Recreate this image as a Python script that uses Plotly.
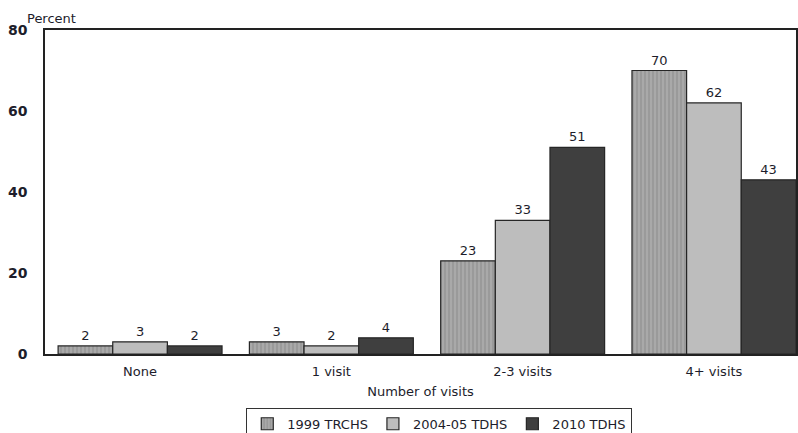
import plotly.graph_objects as go

categories = ["None", "1 visit", "2-3 visits", "4+ visits"]
series_names = ["1999 TRCHS", "2004-05 TDHS", "2010 TDHS"]
values_1999 = [2, 3, 23, 70]
values_2004 = [3, 2, 33, 62]
values_2010 = [2, 4, 51, 43]
y_ticks = [0, 20, 40, 60, 80]

text_color = "#1d1d2b"
font_family = "DejaVu Sans"

fig = go.Figure()

styles = [
    dict(color="#9a9a9a", pattern=dict(shape="|", fgcolor="#c4c4c4", bgcolor="#9a9a9a", size=4, solidity=0.35)),
    dict(color="#bdbdbd"),
    dict(color="#3f3f3f"),
]
for name, vals, st in zip(series_names, [values_1999, values_2004, values_2010], styles):
    fig.add_trace(go.Bar(
        name=name,
        x=categories,
        y=vals,
        text=[str(v) for v in vals],
        textposition="outside",
        textfont=dict(size=13, color=text_color, family=font_family),
        cliponaxis=False,
        marker=dict(line=dict(color="#262626", width=1.2), **st),
    ))

fig.update_layout(
    width=798, height=433,
    margin=dict(l=45, r=2, t=30, b=79, autoexpand=False),
    paper_bgcolor="white", plot_bgcolor="white",
    barmode="group", bargap=0.143, bargroupgap=0,
    font=dict(family=font_family, size=12, color=text_color),
    showlegend=True,
    legend=dict(
        orientation="h", x=0.525, xanchor="center", y=-0.166, yanchor="top",
        bordercolor="#333333", borderwidth=1, bgcolor="white",
        font=dict(size=13, color=text_color), itemwidth=30,
        tracegroupgap=0, traceorder="normal",
    ),
    xaxis=dict(
        range=[-0.497, 3.429], showline=True, mirror=True, linecolor="#222222", linewidth=1.5,
        ticks="", tickfont=dict(size=13), showgrid=False, automargin=False,
        ticklabelstandoff=5,
        title=dict(text="Number of visits", font=dict(size=13), standoff=9),
    ),
    yaxis=dict(
        range=[0, 80], tickvals=y_ticks, showline=True, mirror=True, linecolor="#222222", linewidth=1.5,
        ticks="", showgrid=False, zeroline=False, ticklabelstandoff=13, automargin=False,
        tickfont=dict(size=14, color=text_color, weight="bold"),
    ),
    annotations=[dict(
        text="Percent", xref="paper", yref="paper", x=(25 - 45) / 751, y=(354 - 18) / 324,
        xanchor="left", yanchor="middle", showarrow=False, font=dict(size=13, color=text_color),
    )],
)

fig.write_html("out.html")
